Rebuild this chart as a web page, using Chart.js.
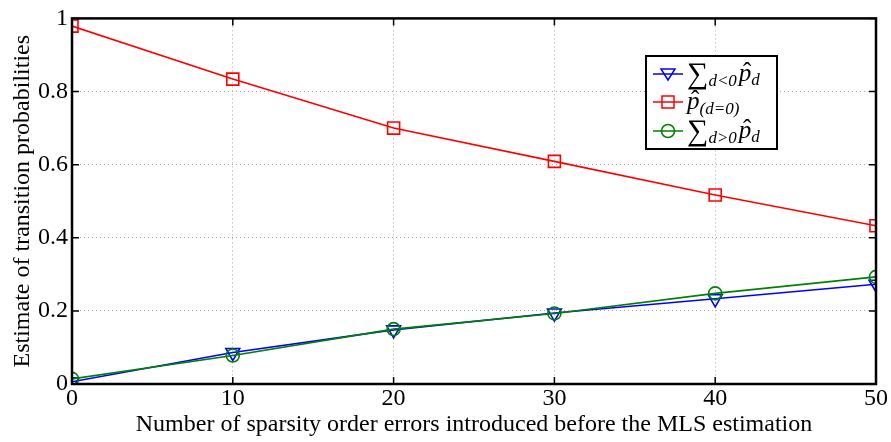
<!DOCTYPE html>
<html>
<head>
<meta charset="utf-8">
<script src="https://cdn.jsdelivr.net/npm/chart.js@4.4.1/dist/chart.umd.min.js"></script>
<style>
  html, body { margin: 0; padding: 0; background: #fff; }
  #wrap { width: 891px; height: 442px; position: relative; }
</style>
</head>
<body>
<div id="wrap"><canvas id="chart"></canvas></div>
<script>
// data
const errors = [0, 10, 20, 30, 40, 50];
const negSum = [0.006, 0.086, 0.148, 0.194, 0.233, 0.273];
const zeroProb = [0.979, 0.834, 0.700, 0.609, 0.517, 0.433];
const posSum = [0.014, 0.078, 0.150, 0.193, 0.248, 0.293];
const xTicks = [0, 10, 20, 30, 40, 50];
const yTicks = [0, 0.2, 0.4, 0.6, 0.8, 1];

const serif = '"Liberation Serif", "DejaVu Serif", serif';

function pts(vals) {
  return vals.map((v, i) => ({ x: errors[i], y: v }));
}

// frame + inward ticks, matlab style
const framePlugin = {
  id: 'frame',
  afterDraw(chart) {
    const { ctx, chartArea: a, scales } = chart;
    ctx.save();
    ctx.strokeStyle = '#000';
    ctx.lineWidth = 1.5;
    const len = 7;
    ctx.beginPath();
    xTicks.forEach(t => {
      const px = scales.x.getPixelForValue(t);
      ctx.moveTo(px, a.bottom); ctx.lineTo(px, a.bottom - len);
      ctx.moveTo(px, a.top); ctx.lineTo(px, a.top + len);
    });
    yTicks.forEach(t => {
      const py = scales.y.getPixelForValue(t);
      ctx.moveTo(a.left, py); ctx.lineTo(a.left + len, py);
      ctx.moveTo(a.right, py); ctx.lineTo(a.right - len, py);
    });
    ctx.stroke();
    ctx.lineWidth = 2.5;
    ctx.strokeRect(a.left, a.top, a.right - a.left, a.bottom - a.top);
    ctx.restore();
  }
};

// legend with the math labels
function drawHatP(ctx, x, y, size) {
  ctx.font = 'italic ' + size + 'px ' + serif;
  ctx.fillText('p', x, y);
  const w = ctx.measureText('p').width;
  ctx.font = size + 'px ' + serif;
  const hw = ctx.measureText('ˆ').width;
  ctx.fillText('ˆ', x + w / 2 - hw / 2 + 2, y - 1);
  return w;
}

const legendPlugin = {
  id: 'mathLegend',
  afterDraw(chart) {
    const ctx = chart.ctx;
    const box = { x: 646, y: 56, w: 131, h: 93 };
    ctx.save();
    ctx.fillStyle = '#fff';
    ctx.fillRect(box.x, box.y, box.w, box.h);
    ctx.strokeStyle = '#000';
    ctx.lineWidth = 2;
    ctx.strokeRect(box.x, box.y, box.w, box.h);

    const rows = [
      { color: '#0000ff', style: 'tri', y: 74, sub: 'd<0', sum: true },
      { color: '#ff0000', style: 'rect', y: 102, sub: '(d=0)', sum: false },
      { color: '#008000', style: 'circle', y: 131, sub: 'd>0', sum: true }
    ];
    rows.forEach(r => {
      ctx.strokeStyle = r.color;
      ctx.lineWidth = 1.5;
      ctx.beginPath();
      ctx.moveTo(653, r.y); ctx.lineTo(683, r.y);
      ctx.stroke();
      ctx.beginPath();
      if (r.style === 'tri') {
        ctx.moveTo(661, r.y - 5); ctx.lineTo(675, r.y - 5); ctx.lineTo(668, r.y + 6); ctx.closePath();
      } else if (r.style === 'rect') {
        ctx.rect(662, r.y - 6, 12, 12);
      } else {
        ctx.arc(668, r.y, 6.5, 0, Math.PI * 2);
      }
      ctx.stroke();

      ctx.fillStyle = '#000';
      ctx.textBaseline = 'alphabetic';
      let x = 687;
      const base = r.y + 7;
      if (r.sum) {
        ctx.font = '30px ' + serif;
        ctx.fillText('∑', x, base + 2);
        x += ctx.measureText('∑').width;
        ctx.font = 'italic 17px ' + serif;
        ctx.fillText(r.sub, x, base + 5);
        x += ctx.measureText(r.sub).width + 2;
        const w = drawHatP(ctx, x, base, 25);
        x += w;
        ctx.font = 'italic 17px ' + serif;
        ctx.fillText('d', x, base + 4);
      } else {
        const w = drawHatP(ctx, x, base, 25);
        x += w;
        ctx.font = 'italic 17px ' + serif;
        ctx.fillText(r.sub, x, base + 5);
      }
    });
    ctx.restore();
  }
};

const common = {
  fill: false,
  borderWidth: 1.6,
  pointRadius: 6.5,
  pointHoverRadius: 6.5,
  pointBorderWidth: 1.6,
  pointBackgroundColor: 'rgba(0,0,0,0)',
  tension: 0
};

new Chart(document.getElementById('chart'), {
  type: 'line',
  data: {
    datasets: [
      Object.assign({}, common, {
        label: 'zero',
        data: pts(zeroProb),
        borderColor: '#ff0000',
        pointBorderColor: '#ff0000',
        pointStyle: 'rect',
        pointRadius: 8.5,
        pointHoverRadius: 8.5
      }),
      Object.assign({}, common, {
        label: 'pos',
        data: pts(posSum),
        borderColor: '#008000',
        pointBorderColor: '#008000',
        pointStyle: 'circle'
      }),
      Object.assign({}, common, {
        label: 'neg',
        data: pts(negSum),
        borderColor: '#0000ff',
        pointBorderColor: '#0000ff',
        pointStyle: 'triangle',
        pointRotation: 180,
        pointRadius: 8,
        pointHoverRadius: 8
      })
    ]
  },
  options: {
    responsive: true,
    maintainAspectRatio: false,
    animation: false,
    layout: { padding: { top: 11, right: 15, left: 0, bottom: 0 } },
    plugins: {
      legend: { display: false },
      tooltip: { enabled: false }
    },
    scales: {
      x: {
        type: 'linear',
        min: 0,
        max: 50,
        afterFit: s => { s.height = 58; },
        afterBuildTicks: s => { s.ticks = xTicks.map(v => ({ value: v })); },
        ticks: { color: '#000', font: { family: serif, size: 24 }, padding: 0, maxRotation: 0 },
        grid: { color: '#aaa', borderDash: [1, 3], drawTicks: false, lineWidth: 1 },
        border: { display: false, dash: [1, 3] },
        title: {
          display: true,
          text: 'Number of sparsity order errors introduced before the MLS estimation',
          color: '#000',
          font: { family: serif, size: 24 },
          padding: { top: 0, bottom: 3 }
        }
      },
      y: {
        min: 0,
        max: 1,
        afterFit: s => { s.width = 72; },
        afterBuildTicks: s => { s.ticks = yTicks.map(v => ({ value: v })); },
        ticks: {
          color: '#000',
          font: { family: serif, size: 24 },
          padding: 4,
          callback: v => String(Math.round(v * 10) / 10)
        },
        grid: { color: '#aaa', borderDash: [1, 3], drawTicks: false, lineWidth: 1 },
        border: { display: false, dash: [1, 3] },
        title: {
          display: true,
          text: 'Estimate of transition probabilities',
          color: '#000',
          font: { family: serif, size: 24 },
          padding: { top: 8, bottom: 0 }
        }
      }
    }
  },
  plugins: [framePlugin, legendPlugin]
});
</script>
</body>
</html>
